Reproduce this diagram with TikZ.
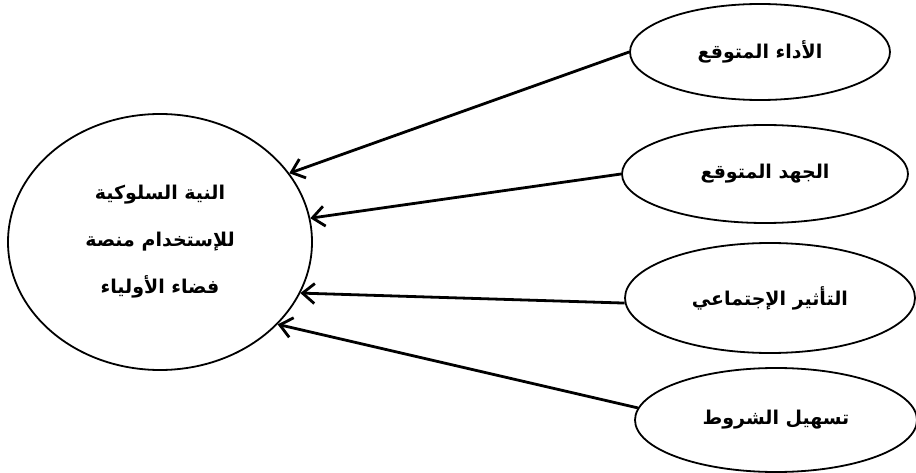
\documentclass[tikz,border=0pt]{standalone}
\usepackage{fontspec}
\newfontfamily\arabicfont[Script=Arabic]{DejaVu Sans}
\TeXXeTstate=1
\usepackage{tikz}
\usetikzlibrary{arrows.meta,shapes.geometric}

\begin{document}
\begin{tikzpicture}[x=1pt,y=-1pt,>={Straight Barb[length=12pt,width=20pt]},
			oval/.style = {draw, shape=ellipse, line width=1.8pt, inner sep=0pt, align=center,
				font=\arabicfont\bfseries\fontsize{19}{22}\selectfont},
			bigoval/.style = {oval, minimum width=304pt, minimum height=256pt,
				font=\arabicfont\bfseries\fontsize{19}{47}\selectfont},
			link/.style = {->, line width=2.8pt}
			]
			\useasboundingbox (0,0) rectangle (916,473);
			\node [bigoval] (intent) at (160,242) {\beginR النية السلوكية\endR\\\beginR للإستخدام منصة\endR\\\beginR فضاء الأولياء\endR};
			\node [oval, minimum width=260pt, minimum height=96pt] (perf) at (760,52) {\beginR الأداء المتوقع\endR};
			\node [oval, minimum width=286pt, minimum height=98pt] (effort) at (765,174) {\beginR الجهد المتوقع\endR};
			\node [oval, minimum width=290pt, minimum height=110pt] (social) at (770,298) {\beginR التأثير الإجتماعي\endR};
			\node [oval, minimum width=282pt, minimum height=104pt] (facil) at (776,420) {\beginR تسهيل الشروط\endR};
			\draw[link] (perf.west) -- (intent.28.7);
			\draw[link] (effort.west) -- (intent.9);
			\draw[link] (social.182) -- (intent.-20.7);
			\draw[link] (facil.175) -- (intent.-35.6);
		\end{tikzpicture}
\end{document}
